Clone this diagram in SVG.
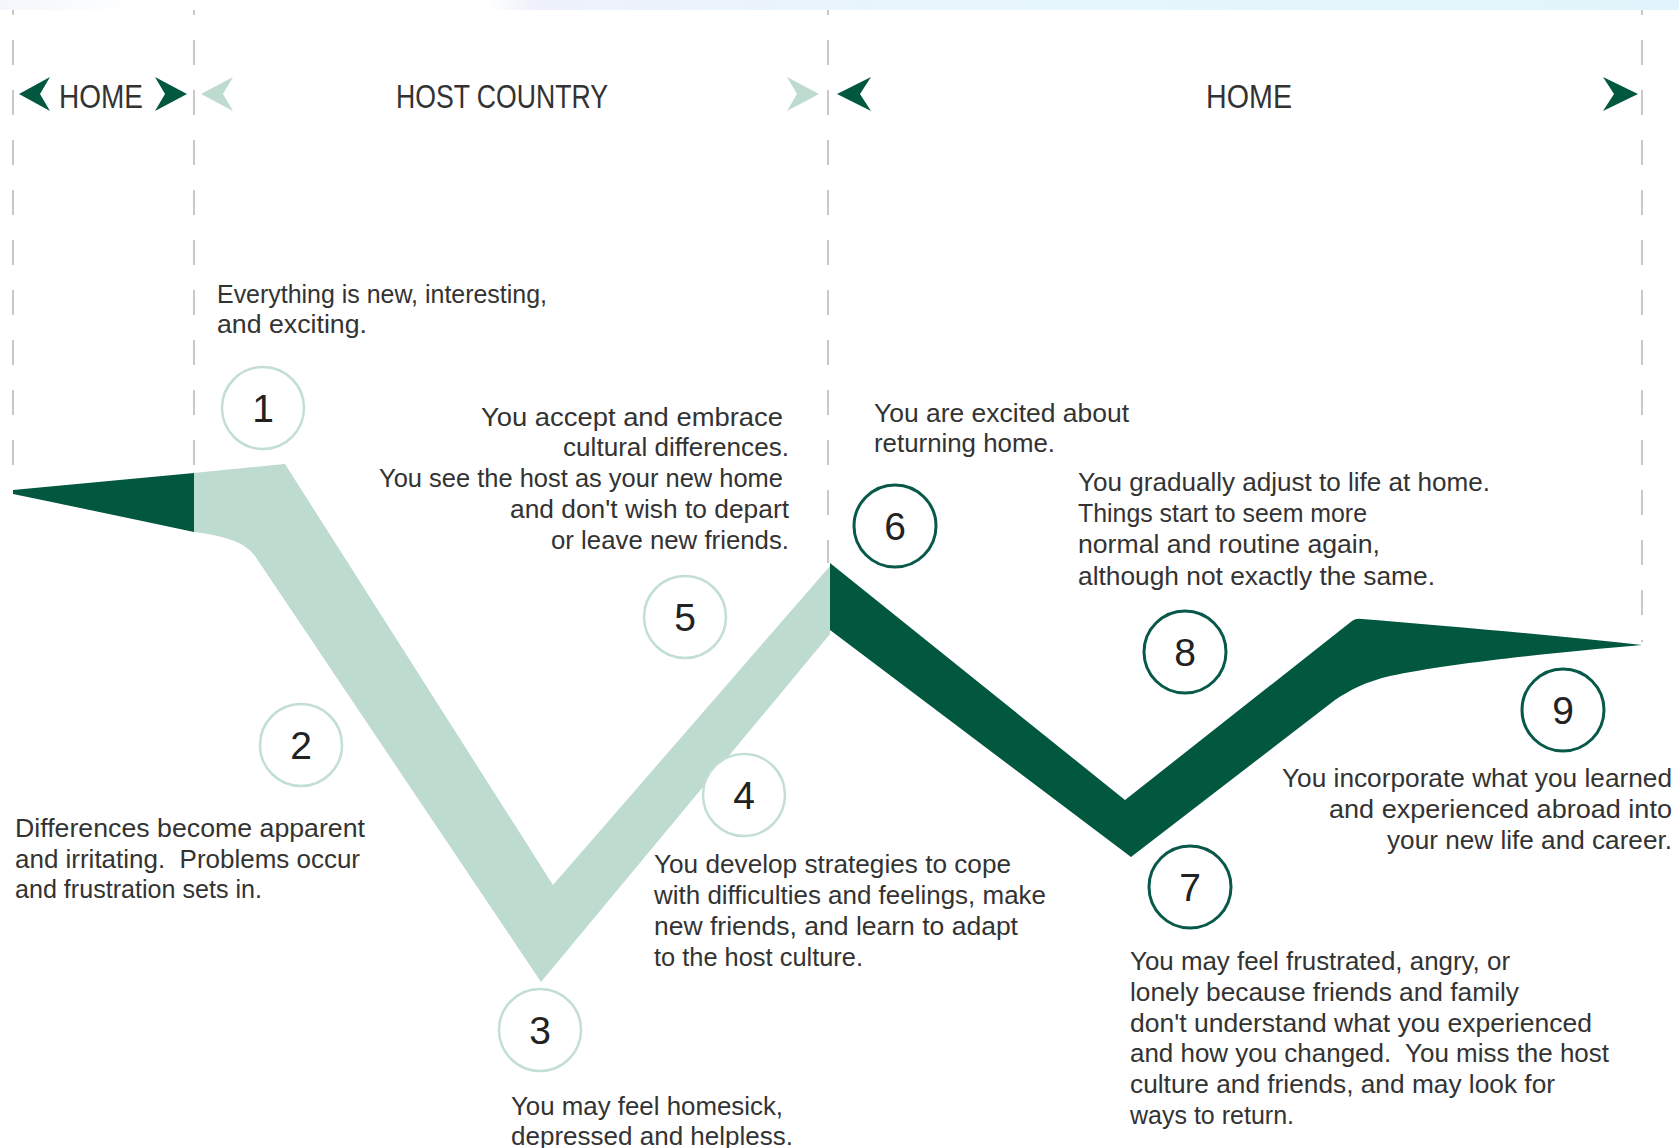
<svg xmlns="http://www.w3.org/2000/svg" width="1679" height="1148" viewBox="0 0 1679 1148">
<defs>
<linearGradient id="band" x1="0" y1="0" x2="1" y2="0">
<stop offset="0" stop-color="#f3f7fb"/>
<stop offset="0.08" stop-color="#ffffff"/>
<stop offset="0.29" stop-color="#ffffff"/>
<stop offset="0.32" stop-color="#eef1fb"/>
<stop offset="0.6" stop-color="#e6f6fc"/>
<stop offset="1" stop-color="#e0f5fb"/>
</linearGradient>
</defs>
<style>
.t{font-family:"Liberation Sans","DejaVu Sans",Arial,sans-serif;font-size:25px;fill:#333333}
.h{font-family:"Liberation Sans","DejaVu Sans",Arial,sans-serif;font-size:34px;fill:#333333}
.n{font-family:"Liberation Sans","DejaVu Sans",Arial,sans-serif;font-size:39px;fill:#222222;text-anchor:middle}
.cl{fill:#ffffff;stroke:#c3ded3;stroke-width:2.5}
.cd{fill:#ffffff;stroke:#08594a;stroke-width:3}
.dash{stroke:#c8c8c8;stroke-width:2;stroke-dasharray:25 25;stroke-dashoffset:20;fill:none}
.dk{fill:#02573f}
.lt{fill:#bedbcf}
</style>
<rect x="0" y="0" width="1679" height="10" fill="url(#band)"/>
<g id="dividers">
<line class="dash" x1="13" y1="10" x2="13" y2="470"/>
<line class="dash" x1="194" y1="10" x2="194" y2="472"/>
<line class="dash" x1="828" y1="10" x2="828" y2="563"/>
<line class="dash" x1="1642" y1="10" x2="1642" y2="642"/>
</g>
<g id="header-home-left">
<polygon class="dk" points="50,77 19,94 50,111 40,94"/>
<text class="h" x="59" y="108" textLength="84" lengthAdjust="spacingAndGlyphs">HOME</text>
<polygon class="dk" points="155,77 187,94 155,111 165,94"/>
</g>
<g id="header-host">
<polygon class="lt" points="233,77 201,94 233,111 223,94"/>
<text class="h" x="396" y="108" textLength="212" lengthAdjust="spacingAndGlyphs">HOST COUNTRY</text>
<polygon class="lt" points="787,77 819,94 787,111 797,94"/>
</g>
<g id="header-home-right">
<polygon class="dk" points="871,77 837,94 871,111 860,94"/>
<text class="h" x="1206" y="108" textLength="86" lengthAdjust="spacingAndGlyphs">HOME</text>
<polygon class="dk" points="1603,77 1638,94 1603,111 1614,94"/>
</g>
<g id="connectors">
<path class="dk" d="M13,490 L194,473 L194,532 Q100,512 13,494 Z"/>
<path class="lt" d="M194,473 L285,464 L553,885 L830,566 L830,634 L541,982 L255,556 C245,542 225,536 194,532 Z"/>
<path class="dk" d="M830,563 L1125,800 L1352,621 Q1356,618 1362,619 C1450,626 1560,636 1642,645 C1560,652 1450,663 1390,676 C1365,682 1350,690 1335,700 L1131,857 L830,630 Z"/>
</g>
<g id="stage1">
<circle class="cl" cx="263" cy="408" r="41"/>
<text class="n" x="263" y="422">1</text>
<text class="t" x="217" y="303" textLength="330" lengthAdjust="spacingAndGlyphs">Everything is new, interesting,</text>
<text class="t" x="217" y="333" textLength="150" lengthAdjust="spacingAndGlyphs">and exciting.</text>
</g>
<g id="stage2">
<circle class="cl" cx="301" cy="745" r="41"/>
<text class="n" x="301" y="759">2</text>
<text class="t" x="15" y="837" textLength="350" lengthAdjust="spacingAndGlyphs">Differences become apparent</text>
<text class="t" x="15" y="868" textLength="345" lengthAdjust="spacingAndGlyphs" xml:space="preserve">and irritating.  Problems occur</text>
<text class="t" x="15" y="898" textLength="247" lengthAdjust="spacingAndGlyphs">and frustration sets in.</text>
</g>
<g id="stage3">
<circle class="cl" cx="540" cy="1030" r="41"/>
<text class="n" x="540" y="1044">3</text>
<text class="t" x="511" y="1115" textLength="272" lengthAdjust="spacingAndGlyphs">You may feel homesick,</text>
<text class="t" x="511" y="1145" textLength="282" lengthAdjust="spacingAndGlyphs">depressed and helpless.</text>
</g>
<g id="stage4">
<circle class="cl" cx="744" cy="795" r="41"/>
<text class="n" x="744" y="809">4</text>
<text class="t" x="654" y="873" textLength="357" lengthAdjust="spacingAndGlyphs">You develop strategies to cope</text>
<text class="t" x="654" y="904" textLength="392" lengthAdjust="spacingAndGlyphs">with difficulties and feelings, make</text>
<text class="t" x="654" y="935" textLength="364" lengthAdjust="spacingAndGlyphs">new friends, and learn to adapt</text>
<text class="t" x="654" y="966" textLength="209" lengthAdjust="spacingAndGlyphs">to the host culture.</text>
</g>
<g id="stage5">
<circle class="cl" cx="685" cy="617" r="41"/>
<text class="n" x="685" y="631">5</text>
<text class="t" x="481" y="426" textLength="302" lengthAdjust="spacingAndGlyphs">You accept and embrace</text>
<text class="t" x="563" y="456" textLength="226" lengthAdjust="spacingAndGlyphs">cultural differences.</text>
<text class="t" x="379" y="487" textLength="404" lengthAdjust="spacingAndGlyphs">You see the host as your new home</text>
<text class="t" x="510" y="518" textLength="279" lengthAdjust="spacingAndGlyphs">and don't wish to depart</text>
<text class="t" x="551" y="549" textLength="238" lengthAdjust="spacingAndGlyphs">or leave new friends.</text>
</g>
<g id="stage6">
<circle class="cd" cx="895" cy="526" r="41"/>
<text class="n" x="895" y="540">6</text>
<text class="t" x="874" y="422" textLength="255" lengthAdjust="spacingAndGlyphs">You are excited about</text>
<text class="t" x="874" y="452" textLength="181" lengthAdjust="spacingAndGlyphs">returning home.</text>
</g>
<g id="stage7">
<circle class="cd" cx="1190" cy="887" r="41"/>
<text class="n" x="1190" y="901">7</text>
<text class="t" x="1130" y="970" textLength="380" lengthAdjust="spacingAndGlyphs">You may feel frustrated, angry, or</text>
<text class="t" x="1130" y="1001" textLength="389" lengthAdjust="spacingAndGlyphs">lonely because friends and family</text>
<text class="t" x="1130" y="1032" textLength="462" lengthAdjust="spacingAndGlyphs">don't understand what you experienced</text>
<text class="t" x="1130" y="1062" textLength="479" lengthAdjust="spacingAndGlyphs" xml:space="preserve">and how you changed.  You miss the host</text>
<text class="t" x="1130" y="1093" textLength="425" lengthAdjust="spacingAndGlyphs">culture and friends, and may look for</text>
<text class="t" x="1130" y="1124" textLength="164" lengthAdjust="spacingAndGlyphs">ways to return.</text>
</g>
<g id="stage8">
<circle class="cd" cx="1185" cy="652" r="41"/>
<text class="n" x="1185" y="666">8</text>
<text class="t" x="1078" y="491" textLength="412" lengthAdjust="spacingAndGlyphs">You gradually adjust to life at home.</text>
<text class="t" x="1078" y="522" textLength="289" lengthAdjust="spacingAndGlyphs">Things start to seem more</text>
<text class="t" x="1078" y="553" textLength="302" lengthAdjust="spacingAndGlyphs">normal and routine again,</text>
<text class="t" x="1078" y="585" textLength="357" lengthAdjust="spacingAndGlyphs">although not exactly the same.</text>
</g>
<g id="stage9">
<circle class="cd" cx="1563" cy="710" r="41"/>
<text class="n" x="1563" y="724">9</text>
<text class="t" x="1282" y="787" textLength="390" lengthAdjust="spacingAndGlyphs">You incorporate what you learned</text>
<text class="t" x="1329" y="818" textLength="343" lengthAdjust="spacingAndGlyphs">and experienced abroad into</text>
<text class="t" x="1387" y="849" textLength="285" lengthAdjust="spacingAndGlyphs">your new life and career.</text>
</g>
</svg>
